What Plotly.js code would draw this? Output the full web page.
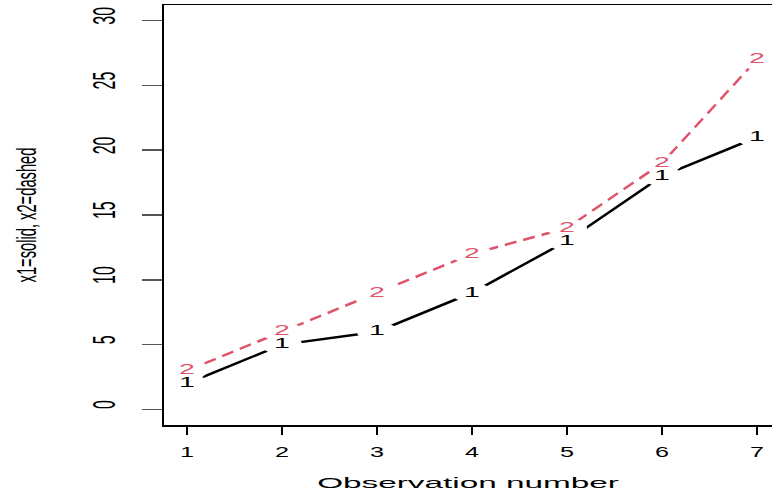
<!DOCTYPE html>
<html><head><meta charset="utf-8">
<script src="https://cdn.plot.ly/plotly-3.0.1.min.js"></script>
<style>body{margin:0;background:#fff}</style>
</head><body>
<div id="chart" style="width:772px;height:496px"></div>
<script>
const observations = [1, 2, 3, 4, 5, 6, 7];
const x1 = [2, 5, 6, 9, 13, 18, 21];
const x2 = [3, 6, 9, 12, 14, 19, 27];
const xTicks = [1, 2, 3, 4, 5, 6, 7];
const yTicks = [0, 5, 10, 15, 20, 25, 30];
const labels1 = ['1', '1', '1', '1', '1', '1', '1'];
const labels2 = ['2', '2', '2', '2', '2', '2', '2'];

const BLACK = '#000000', RED = '#DF536B';
const FONT = 'Liberation Sans, Arial, sans-serif';

const gapMarker = {color: '#ffffff', size: 20, line: {width: 0}};
const traces = [
  {x: observations, y: x1, mode: 'lines+markers', line: {color: BLACK, width: 2.5}, marker: gapMarker, showlegend: false, hoverinfo: 'skip'},
  {x: observations, y: x2, mode: 'lines+markers', line: {color: RED, width: 2.5, dash: '12px,7px'}, marker: gapMarker, showlegend: false, hoverinfo: 'skip'},
  {x: observations, y: x1, mode: 'text', text: labels1, textposition: 'middle center', textfont: {family: FONT, size: 15, color: BLACK}, showlegend: false, hoverinfo: 'skip'},
  {x: observations, y: x2, mode: 'text', text: labels2, textposition: 'middle center', textfont: {family: FONT, size: 15, color: RED}, showlegend: false, hoverinfo: 'skip'}
];

const layout = {
  width: 772, height: 496,
  margin: {l: 164, r: 0, t: 5, b: 71},
  paper_bgcolor: '#ffffff', plot_bgcolor: '#ffffff',
  showlegend: false,
  xaxis: {
    range: [0.758, 7.158], tickmode: 'array', tickvals: xTicks, ticktext: xTicks.map(String),
    showgrid: false, zeroline: false, showline: true, mirror: true, linecolor: BLACK, linewidth: 1.5,
    ticks: 'outside', ticklen: 8, tickwidth: 2, tickcolor: BLACK, ticklabelstandoff: 6,
    tickfont: {family: FONT, size: 14, color: BLACK},
    title: {text: 'Observation number', font: {family: FONT, size: 15.5, color: BLACK}, standoff: 18}
  },
  yaxis: {
    range: [-1.2, 31.2], tickmode: 'array', tickvals: yTicks, ticktext: yTicks.map(String),
    showgrid: false, zeroline: false, showline: true, mirror: false, linecolor: BLACK, linewidth: 2,
    ticks: 'outside', ticklen: 20, tickwidth: 1.5, tickcolor: '#555555', tickangle: -90,
    ticklabeloverflow: 'allow',
    tickfont: {family: FONT, size: 32, color: BLACK}, ticklabelstandoff: 14,
    title: {text: 'x1=solid, x2=dashed', font: {family: FONT, size: 27, color: BLACK}, standoff: 42}
  }
};

function squash(sel, sx, sy) {
  document.querySelectorAll(sel).forEach(el => {
    const b = el.getBBox();
    const cx = b.x + b.width / 2, cy = b.y + b.height / 2;
    const t = el.getAttribute('transform') || '';
    el.setAttribute('transform', t + ` translate(${cx},${cy}) scale(${sx},${sy}) translate(${-cx},${-cy})`);
  });
}

Plotly.newPlot('chart', traces, layout, {staticPlot: true, displayModeBar: false}).then(() => {
  squash('#chart .xtick text', 1.8, 1);
  squash('#chart .g-xtitle text', 2.15, 1);
  squash('#chart .ytick text', 0.5, 1);
  squash('#chart .g-ytitle text', 0.545, 1);
  squash('#chart .textpoint text', 1.9, 1);
  squash('#chart path.point', 2.0, 1);
});
</script>
</body></html>
